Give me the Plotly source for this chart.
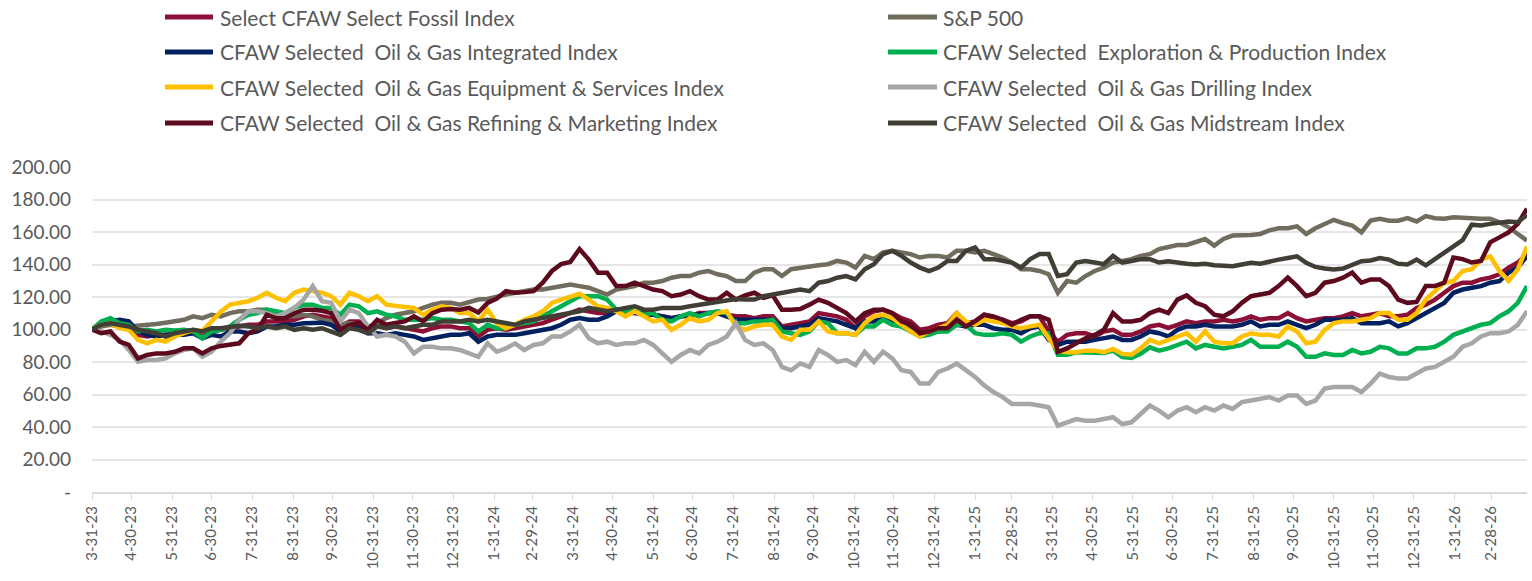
import pandas as pd
import plotly.graph_objects as go

# ---------------- data (weekly, index = 100 at 3-31-23) ----------------
start_date = "2023-03-31"
n_weeks = 157

fossil = [100, 102.9, 103.9, 101.9, 100.8, 96.7, 95.7, 96.7, 96.7, 97.7, 98.8, 98.8, 95.7, 98.8, 99.8, 101.4, 101.9, 102.9, 102.9, 105.0,
          105.0, 105.0, 106.0, 108.1, 109.1, 108.1, 107.0, 101.9, 105.0, 105.0, 101.9, 102.9, 100.8, 101.9, 100.8, 99.8, 98.8, 100.8, 101.9,
          101.9, 100.8, 100.8, 95.7, 99.8, 100.8, 99.8, 100.8, 101.9, 102.9, 103.9, 106.0, 108.1, 110.1, 112.2, 111.2, 110.1, 110.1, 111.2, 110.1,
          110.1, 109.1, 109.1, 108.1, 107.0, 108.1, 108.1, 110.1, 110.1, 110.1, 109.1, 108.1, 108.1, 107.0, 108.1, 108.1, 101.9, 102.9, 103.9,
          105.0, 110.1, 109.1, 108.1, 106.0, 100.8, 108.1, 111.2, 112.2, 110.1, 107.0, 105.0, 99.8, 100.8, 102.9, 103.9, 110.1, 103.9, 105.0,
          109.1, 107.0, 106.0, 103.9, 105.0, 108.1, 108.1, 98.8, 92.5, 96.7, 97.7, 97.7, 95.7, 98.8, 99.8, 96.7, 96.7, 98.8, 101.9, 102.9,
          101.0, 102.9, 105.0, 103.9, 105.0, 105.0, 106.0, 105.0, 106.0, 108.1, 106.0, 107.0, 107.0, 110.1, 107.0, 105.0, 106.0, 107.0, 107.0,
          108.1, 110.1, 108.1, 109.1, 110.1, 108.1, 108.1, 109.1, 113.3, 115.3, 118.4, 122.6, 126.7, 128.8, 128.8, 130.8, 131.9, 134.0, 138.1,
          141.2, 146.4]

sp500 = [100, 101.9, 102.9, 101.9, 101.9, 102.3, 102.9, 103.4, 104.2, 105.0, 106.0, 108.1, 107.0, 109.1, 108.1, 110.1, 111.2, 111.2, 112.2,
         112.2, 110.1, 109.1, 108.1, 109.1, 108.1, 106.0, 105.0, 102.9, 103.9, 102.9, 100.8, 103.9, 107.0, 109.1, 110.1, 111.2, 113.3, 115.3, 116.4,
         116.4, 115.3, 116.8, 118.4, 118.8, 120.5, 121.5, 122.6, 123.6, 124.6, 124.6, 125.7, 126.7, 127.7, 126.7, 125.7, 123.6, 121.5, 124.6,
         125.7, 126.7, 128.8, 128.8, 129.8, 131.9, 132.9, 132.9, 135.0, 136.0, 134.0, 132.9, 129.8, 129.8, 135.0, 137.1, 137.1, 132.9, 137.1, 138.1,
         139.1, 139.5, 140.2, 142.2, 141.2, 138.1, 145.3, 143.3, 147.4, 148.4, 147.4, 146.4, 144.3, 145.3, 145.3, 144.3, 148.4, 148.4, 147.4,
         148.4, 146.4, 144.3, 141.2, 137.1, 137.1, 136.0, 134.0, 122.6, 129.8, 128.8, 132.9, 136.0, 138.1, 141.2, 142.2, 143.3, 145.3, 146.4, 149.5,
         150.5, 152.0, 152.0, 153.6, 155.7, 151.6, 155.7, 157.8, 157.8, 158.2, 158.8, 161.0, 162.3, 162.3, 163.5, 158.8, 162.3, 165.0, 167.5,
         165.5, 164.0, 159.8, 167.0, 168.1, 167.0, 167.0, 168.5, 166.5, 169.8, 168.5, 168.1, 169.1, 169.1, 168.5, 168.1, 168.1, 166.0, 162.9,
         158.8, 154.7]

integrated = [100, 103.9, 105.0, 106.0, 105.0, 98.8, 96.7, 95.7, 96.7, 96.7, 96.7, 97.7, 94.6, 96.7, 95.7, 98.8, 98.8, 97.7, 98.8, 101.9,
              101.9, 102.9, 102.9, 103.9, 104.2, 104.2, 102.9, 98.8, 101.9, 100.8, 97.7, 97.7, 96.7, 97.7, 96.7, 95.7, 93.6, 94.6, 95.7,
              96.7, 96.7, 97.7, 92.5, 95.7, 96.7, 96.7, 96.7, 97.7, 98.8, 99.8, 100.8, 102.9, 106.0, 107.0, 106.0, 106.0, 108.1, 111.2, 111.2,
              110.1, 110.1, 109.1, 108.1, 107.0, 108.1, 109.1, 109.1, 110.1, 110.1, 108.1, 106.0, 106.0, 106.0, 106.0, 106.0, 100.8, 100.8, 101.9,
              102.9, 107.0, 106.0, 105.0, 102.9, 100.8, 105.0, 105.0, 107.0, 105.0, 101.9, 100.8, 97.7, 97.7, 98.8, 99.8, 102.9, 101.9, 102.9,
              102.9, 100.8, 99.8, 99.8, 97.7, 100.8, 101.9, 93.6, 90.5, 92.5, 92.5, 92.5, 93.6, 94.6, 95.7, 93.6, 93.6, 95.7, 98.8, 97.7,
              95.7, 99.8, 101.9, 101.9, 102.9, 101.9, 101.9, 101.9, 102.9, 105.0, 101.9, 102.9, 102.9, 105.0, 102.9, 100.8, 102.9, 106.0, 106.0,
              106.0, 107.0, 103.9, 103.9, 103.9, 105.0, 101.9, 103.9, 107.0, 110.1, 113.3, 116.4, 122.6, 124.6, 125.7, 126.7, 128.8, 129.8, 135.0,
              138.1, 145.3]

exploration = [100, 105.0, 107.0, 103.9, 102.9, 98.8, 99.8, 98.8, 99.8, 99.4, 99.8, 98.8, 94.6, 98.8, 99.8, 101.9, 106.0, 109.1, 110.1, 112.2,
               111.2, 110.1, 113.3, 115.3, 115.3, 113.3, 113.3, 109.1, 115.3, 114.3, 110.1, 111.2, 109.1, 108.1, 106.0, 106.0, 106.0, 107.0, 106.0,
               106.0, 105.0, 103.9, 98.8, 102.9, 100.8, 100.8, 102.9, 103.9, 105.0, 108.1, 111.2, 114.3, 117.4, 120.5, 120.5, 120.5, 118.4, 112.2,
               111.2, 111.2, 109.1, 110.1, 106.0, 105.0, 108.1, 110.1, 108.1, 110.1, 111.2, 110.1, 103.9, 103.9, 105.0, 105.0, 106.0, 98.8, 97.7, 96.7,
               98.8, 105.0, 103.9, 97.7, 97.7, 96.7, 101.9, 101.9, 106.0, 102.9, 101.9, 98.8, 95.7, 96.7, 98.8, 98.8, 102.9, 102.9, 97.7,
               96.7, 96.7, 97.7, 96.7, 92.5, 95.7, 97.7, 97.7, 84.5, 84.5, 86.0, 86.0, 86.0, 85.5, 87.0, 83.0, 82.5, 85.0, 89.0, 87.0,
               88.4, 90.5, 92.5, 88.4, 90.5, 89.4, 88.4, 89.4, 90.5, 93.6, 89.4, 89.4, 89.4, 92.5, 89.4, 83.2, 83.2, 85.3, 84.3,
               84.3, 87.4, 85.3, 86.3, 89.4, 88.4, 85.3, 85.3, 88.4, 88.4, 89.4, 92.5, 96.7, 98.8, 100.8, 102.9, 103.9, 108.1, 111.2,
               116.4, 126.7]

equipment = [100, 102.9, 103.9, 100.8, 99.8, 93.6, 91.5, 93.6, 92.5, 95.7, 97.7, 99.8, 99.0, 105.0, 111.0, 115.3, 116.4, 117.4, 119.5, 122.6,
             119.5, 117.4, 122.6, 124.6, 123.6, 122.6, 120.5, 115.3, 122.6, 120.5, 117.4, 120.5, 115.3, 114.3, 113.8, 113.3, 109.1, 112.2, 114.3,
             113.3, 110.1, 110.1, 105.0, 112.2, 103.9, 100.8, 102.9, 106.0, 108.1, 111.2, 116.4, 118.4, 120.5, 122.0, 118.4, 114.3, 113.3, 111.2,
             108.1, 111.2, 108.1, 105.0, 106.0, 99.8, 102.9, 107.0, 105.0, 106.0, 110.1, 111.2, 101.9, 99.8, 101.9, 102.9, 102.9, 95.7, 93.6, 99.8,
             99.8, 105.0, 98.8, 97.7, 97.7, 96.7, 103.9, 108.1, 109.1, 107.0, 102.9, 98.8, 95.7, 98.8, 100.8, 102.9, 110.1, 105.0, 102.9,
             106.0, 105.0, 103.9, 101.9, 100.8, 101.9, 102.9, 94.6, 87.0, 86.0, 86.0, 87.0, 87.0, 86.0, 88.0, 85.0, 84.5, 88.4, 93.6, 91.5,
             93.6, 95.7, 97.7, 92.5, 98.8, 92.5, 91.5, 91.5, 95.7, 97.7, 96.7, 96.7, 95.7, 101.9, 98.8, 91.5, 92.5, 99.8, 103.9,
             105.0, 105.0, 106.0, 107.0, 110.1, 110.1, 106.0, 106.0, 110.1, 118.4, 123.6, 128.8, 129.8, 136.0, 137.1, 143.0, 145.0, 136.0, 130.0,
             137.0, 151.0]

drilling = [100, 98.8, 96.7, 93.5, 87.4, 80.1, 81.2, 81.2, 82.2, 85.3, 87.4, 88.4, 83.2, 86.3, 92.5, 97.7, 106.0, 111.2, 111.2, 110.1,
            108.1, 110.1, 113.3, 118.4, 126.7, 117.4, 116.4, 105.0, 112.2, 110.1, 101.9, 95.7, 96.7, 95.7, 92.5, 85.3, 89.4, 89.4, 88.4,
            88.4, 87.4, 85.3, 83.2, 91.5, 86.3, 88.4, 91.5, 87.4, 90.5, 91.5, 95.7, 95.7, 98.8, 102.9, 94.6, 91.5, 92.5, 90.5, 91.5,
            91.5, 93.6, 90.5, 85.3, 80.1, 84.3, 87.4, 85.3, 90.5, 92.5, 95.7, 104.0, 93.6, 90.5, 91.5, 87.4, 77.0, 74.9, 79.1,
            77.0, 87.4, 84.3, 80.1, 81.2, 78.1, 86.3, 80.1, 86.3, 82.2, 74.9, 73.9, 66.7, 66.7, 73.9, 76.0, 79.1, 74.9, 70.8,
            65.6, 61.5, 58.4, 54.2, 54.2, 54.2, 53.2, 52.2, 40.8, 42.9, 44.9, 43.9, 43.9, 44.9, 46.0, 41.8, 42.9, 48.0, 53.2, 50.1,
            46.0, 50.1, 52.2, 49.1, 52.2, 50.1, 53.2, 51.1, 55.3, 56.3, 57.3, 58.4, 56.3, 59.4, 59.4, 54.2, 56.3, 63.6, 64.6,
            64.6, 64.6, 61.5, 66.7, 72.9, 70.8, 69.8, 69.8, 72.9, 76.0, 77.0, 80.1, 83.2, 89.4, 91.5, 95.7, 97.7, 97.7, 98.8,
            102.9, 111.2]

refining = [100, 97.7, 98.8, 92.5, 90.5, 82.2, 84.3, 85.3, 85.3, 86.3, 88.4, 88.4, 85.3, 88.4, 89.9, 90.5, 91.5, 97.7, 99.8, 109.1,
            107.0, 107.0, 110.0, 112.2, 112.2, 111.5, 110.1, 99.8, 102.9, 103.9, 99.8, 106.0, 102.9, 104.0, 105.0, 108.1, 105.0, 110.1, 112.2,
            112.6, 112.2, 113.3, 110.5, 116.4, 119.0, 123.6, 122.6, 123.0, 123.6, 128.8, 136.0, 140.2, 141.6, 149.5, 143.0, 135.0, 135.0, 126.7,
            126.7, 128.8, 126.7, 124.6, 123.6, 120.5, 121.5, 123.6, 120.5, 118.4, 118.4, 122.6, 118.4, 121.0, 122.6, 119.5, 121.0, 112.2, 112.2, 112.6,
            115.3, 118.4, 116.4, 113.3, 110.1, 105.0, 110.1, 112.2, 112.2, 110.1, 105.0, 102.9, 97.7, 98.8, 100.8, 100.8, 106.0, 101.9, 105.0,
            109.1, 108.1, 106.0, 102.9, 106.0, 108.1, 108.1, 106.0, 86.3, 88.4, 91.5, 94.6, 96.7, 99.8, 110.1, 105.0, 105.0, 106.0, 110.1, 112.2,
            110.1, 118.4, 121.0, 116.4, 114.3, 109.1, 108.1, 111.2, 116.4, 120.5, 121.5, 122.6, 126.7, 131.9, 126.7, 120.5, 122.6, 128.8, 129.8,
            131.9, 135.0, 128.8, 130.8, 130.8, 126.7, 118.4, 116.4, 117.0, 126.7, 126.7, 128.8, 144.3, 143.3, 141.2, 142.2, 153.6, 156.7, 159.8,
            165.0, 174.3]

midstream = [100, 102.9, 103.9, 102.9, 101.9, 99.8, 98.8, 97.7, 95.7, 97.7, 98.8, 99.8, 98.8, 100.8, 100.8, 101.9, 102.3, 101.9, 100.8, 101.9,
             100.8, 101.9, 99.8, 100.8, 99.8, 100.8, 98.8, 96.7, 100.8, 99.8, 97.7, 101.9, 100.8, 101.9, 100.8, 101.9, 102.9, 102.9, 105.0,
             105.0, 105.0, 106.0, 105.0, 106.0, 105.0, 103.9, 102.9, 105.0, 106.0, 107.0, 108.1, 109.1, 110.1, 111.2, 113.3, 112.2, 111.2, 112.2,
             113.3, 114.3, 112.2, 112.2, 113.3, 113.3, 113.3, 114.3, 115.3, 116.4, 117.4, 118.4, 118.8, 118.4, 118.4, 120.5, 121.5, 122.6, 123.6, 124.6,
             123.6, 128.8, 129.8, 131.9, 132.9, 130.8, 137.1, 140.2, 146.4, 148.4, 145.3, 141.2, 138.1, 136.0, 138.1, 142.2, 142.2, 148.4, 150.5,
             143.3, 143.3, 142.2, 141.2, 138.1, 143.3, 146.4, 146.4, 132.9, 134.0, 141.2, 142.2, 141.2, 140.2, 145.3, 141.2, 142.2, 143.3, 143.3, 141.2,
             142.0, 141.0, 140.5, 140.0, 140.5, 139.5, 139.0, 139.0, 140.0, 141.0, 140.5, 142.0, 143.0, 144.0, 145.0, 141.0, 138.5, 137.5, 137.0,
             137.5, 140.0, 142.0, 142.5, 144.0, 143.0, 140.5, 140.0, 143.0, 139.5, 143.5, 147.0, 151.0, 155.0, 164.5, 164.0, 165.0, 166.0, 166.5,
             166.0, 170.5]

series_names = [
    "Select CFAW Select Fossil Index",
    "S&P 500",
    "CFAW Selected  Oil & Gas Integrated Index",
    "CFAW Selected  Exploration & Production Index",
    "CFAW Selected  Oil & Gas Equipment & Services Index",
    "CFAW Selected  Oil & Gas Drilling Index",
    "CFAW Selected  Oil & Gas Refining & Marketing Index",
    "CFAW Selected  Oil & Gas Midstream Index",
]
series_values = [fossil, sp500, integrated, exploration, equipment, drilling, refining, midstream]
series_colors = ["#8C1035", "#716D5E", "#002060", "#00B050", "#FFC000", "#A6A6A6", "#5E0A1E", "#403E35"]

y_tickvals = [0, 20, 40, 60, 80, 100, 120, 140, 160, 180, 200]
y_ticktext = ["-"] + [f"{v:.2f}" for v in y_tickvals[1:]]

# ---------------- figure ----------------
dates = pd.date_range(start_date, periods=n_weeks, freq="7D")
month_ticks = pd.date_range(start_date, "2026-02-28", freq="ME")
month_text = [f"{d.month}-{d.day}-{d.year % 100:02d}" for d in month_ticks]

W, H = 1532, 581
L, R, T, B = 92, 5, 167, 89
pw, ph = W - L - R, H - T - B

def px_x(px):
    return (px - L) / pw

def px_y(py):
    return (H - B - py) / ph

fig = go.Figure()
for name, vals, col in zip(series_names, series_values, series_colors):
    fig.add_trace(go.Scatter(x=dates, y=vals, mode="lines", name=name,
                             line=dict(color=col, width=4.5), showlegend=False))

# manual two-column legend
FONT = "Lato, 'Open Sans', sans-serif"
legend_cols = [(165, 213, 218), (888, 937, 941)]
legend_rows = [17, 52, 87, 123]
for k, (name, col) in enumerate(zip(series_names, series_colors)):
    r, c = divmod(k, 2)
    x0, x1, xt = legend_cols[c]
    yy = px_y(legend_rows[r])
    fig.add_shape(type="line", xref="paper", yref="paper", x0=px_x(x0), x1=px_x(x1), y0=yy, y1=yy,
                  line=dict(color=col, width=5))
    fig.add_annotation(xref="paper", yref="paper", x=px_x(xt), y=yy, text=name, showarrow=False,
                       xanchor="left", yanchor="middle", font=dict(family=FONT, size=21, color="#595959"))

fig.update_layout(
    width=W, height=H, autosize=False,
    margin=dict(l=L, r=R, t=T, b=B),
    paper_bgcolor="white", plot_bgcolor="white",
    font=dict(family=FONT, color="#595959"),
    hovermode=False,
)
fig.update_xaxes(
    type="date", range=[dates[0], dates[-1]],
    tickmode="array", tickvals=month_ticks, ticktext=month_text, tickangle=-90,
    tickfont=dict(family=FONT, size=15, color="#595959"),
    ticks="outside", ticklen=6, tickcolor="#D9D9D9", tickwidth=1,
    showline=True, linecolor="#D9D9D9", linewidth=2, showgrid=False, zeroline=False,
)
fig.update_yaxes(
    range=[0, 200], tickmode="array", tickvals=y_tickvals, ticktext=y_ticktext,
    tickfont=dict(family=FONT, size=19, color="#595959"),
    showgrid=True, gridcolor="#E6E6E6", gridwidth=1.5, zeroline=False, showline=False,
    ticks="", ticklabelstandoff=20,
)

fig.write_html("out.html", config={"displayModeBar": False},
               post_script="document.body.style.margin='0px';document.body.style.overflow='hidden';")
